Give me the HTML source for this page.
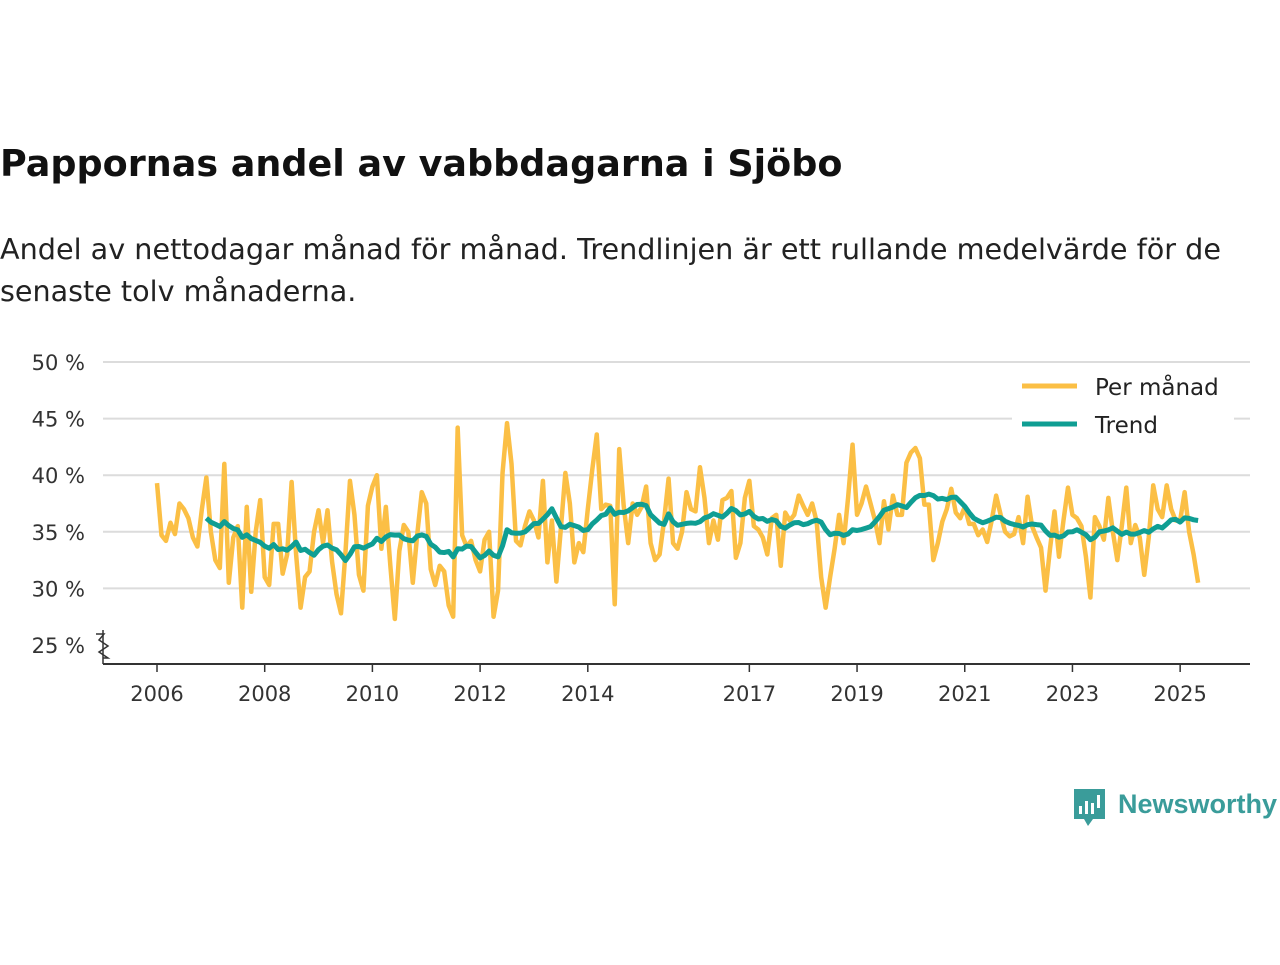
<!DOCTYPE html>
<html><head><meta charset="utf-8"><style>
body{margin:0;background:#fff;width:1280px;height:960px;overflow:hidden;font-family:"Liberation Sans","DejaVu Sans",sans-serif}
</style></head><body>
<svg width="1280" height="960" xmlns="http://www.w3.org/2000/svg">
<text x="0" y="176" font-size="36.5" font-weight="bold" fill="#111" font-family="'DejaVu Sans','Liberation Sans',sans-serif">Pappornas andel av vabbdagarna i Sjöbo</text>
<text font-size="28.6" fill="#222" font-family="'DejaVu Sans','Liberation Sans',sans-serif"><tspan x="0" y="259" textLength="1221" lengthAdjust="spacingAndGlyphs">Andel av nettodagar månad för månad. Trendlinjen är ett rullande medelvärde för de</tspan><tspan x="0" y="301">senaste tolv månaderna.</tspan></text>
<g id="grid"></g><g id="xaxis"></g><g id="series"></g>
<g>
<rect x="1012" y="366" width="222" height="80" fill="#fff"/>
<line x1="1022" y1="386" x2="1077" y2="386" stroke="#fbbf45" stroke-width="5"/>
<text x="1095" y="395" font-size="23" fill="#222" font-family="'DejaVu Sans',sans-serif">Per månad</text>
<line x1="1022" y1="424" x2="1077" y2="424" stroke="#0f9e93" stroke-width="5"/>
<text x="1095" y="433" font-size="23" fill="#222" font-family="'DejaVu Sans',sans-serif">Trend</text>
</g>
<g>
<path d="M1074 789h31v30h-12l-5 7-4-7h-10z" fill="#3a9c9a"/>
<rect x="1079" y="806" width="3" height="8" fill="#fff"/><rect x="1085" y="801" width="3" height="13" fill="#fff"/><rect x="1091" y="803" width="3" height="11" fill="#fff"/><rect x="1097" y="795" width="3" height="13" fill="#fff"/>
<text x="1118" y="813" font-size="27" font-weight="bold" fill="#3a9c9a">Newsworthy</text>
</g>
</svg>
<script>
const yTicks=[25,30,35,40,45,50];
const yTickLabels=["25 %","30 %","35 %","40 %","45 %","50 %"];
const xTickYears=[2006,2008,2010,2012,2014,2017,2019,2021,2023,2025];
const startYear=2006;
const monthly=[
39.3,34.7,34.2,35.8,34.8,37.5,37.0,36.2,34.5,33.7,37.0,39.8,
35.0,32.5,31.8,41.0,30.5,34.5,35.5,28.3,37.2,29.7,35.0,37.8,
31.0,30.3,35.7,35.7,31.3,33.0,39.4,33.0,28.3,31.0,31.5,35.0,
36.9,34.0,36.9,32.4,29.5,27.8,33.2,39.5,36.5,31.2,29.8,37.3,
39.0,40.0,33.5,37.2,32.0,27.3,33.3,35.6,35.0,30.5,34.8,38.5,
37.5,31.7,30.3,32.0,31.5,28.5,27.5,44.2,34.7,33.7,34.2,32.5,
31.5,34.3,35.0,27.5,29.8,40.2,44.6,41.0,34.2,33.8,35.5,36.8,
36.0,34.5,39.5,32.3,36.0,30.6,35.3,40.2,37.5,32.3,34.0,33.2,
37.0,40.5,43.6,37.0,37.4,37.3,28.6,42.3,37.3,34.0,37.5,36.5,
37.2,39.0,34.0,32.5,33.0,36.0,39.7,34.0,33.5,35.0,38.5,37.0,
36.8,40.7,38.0,34.0,36.0,34.3,37.8,38.0,38.6,32.7,34.0,38.0,
39.5,35.5,35.2,34.5,33.0,36.2,36.5,32.0,36.7,36.0,36.5,38.2,
37.3,36.5,37.5,35.9,31.0,28.3,31.0,33.5,36.5,34.0,38.0,42.7,
36.5,37.5,39.0,37.5,36.0,34.0,37.7,35.2,38.2,36.5,36.5,41.1,
42.0,42.4,41.5,37.4,37.4,32.5,34.0,35.9,37.0,38.8,36.7,36.2,
37.2,35.7,35.7,34.7,35.2,34.1,36.0,38.2,36.5,35.0,34.6,34.8,
36.3,34.0,38.1,35.5,34.5,33.6,29.8,33.5,36.8,32.8,36.0,38.9,
36.5,36.2,35.5,32.8,29.2,36.3,35.5,34.3,38.0,35.0,32.5,35.5,
38.9,34.0,35.6,34.5,31.2,34.5,39.1,37.0,36.3,39.1,37.0,36.0,
36.0,38.5,35.0,33.0,30.5];
const NS="http://www.w3.org/2000/svg";
const X0=157,PXY=53.85,Y0=645,PXP=11.32,L=103,R=1250;
const xm=i=>X0+i*PXY/12, xy=y=>X0+(y-startYear)*PXY, yv=v=>Y0-(v-25)*PXP;
function mk(t,a,p){const e=document.createElementNS(NS,t);for(const k in a)e.setAttribute(k,a[k]);p.appendChild(e);return e;}
const grid=document.getElementById('grid');
yTicks.forEach((t,i)=>{
 if(t>25){const l=mk('line',{x1:L,x2:R,y1:yv(t),y2:yv(t),stroke:'#dcdcdc','stroke-width':2},grid);
 
 }
 const tx=mk('text',{x:85,y:yv(t)+8,'text-anchor':'end','font-size':21,fill:'#333','font-family':"'DejaVu Sans',sans-serif"},grid);
 tx.textContent=yTickLabels[i];
 
 
});
const brk=mk('polyline',{points:'96,634 104,634 99,640 108,646 99,652 108,658 103,658',fill:'none',stroke:'#333','stroke-width':1.5},grid);


const xa=document.getElementById('xaxis');
const ax=mk('line',{x1:L,x2:R,y1:664,y2:664,stroke:'#333','stroke-width':2},xa);


const ya=mk('line',{x1:L,x2:L,y1:630,y2:664,stroke:'#333','stroke-width':1.5},xa);


xTickYears.forEach(y=>{
 const tk=mk('line',{x1:xy(y),x2:xy(y),y1:664,y2:672,stroke:'#333','stroke-width':1.5},xa);
 
 
 const t=mk('text',{x:xy(y),y:701,'text-anchor':'middle','font-size':21,fill:'#333','font-family':"'DejaVu Sans',sans-serif"},xa);
 t.textContent=y;
 
 
});
const s=document.getElementById('series');
const p1=mk('polyline',{points:monthly.map((v,i)=>xm(i)+','+yv(v)).join(' '),fill:'none',stroke:'#fbbf45','stroke-width':4.5,'stroke-linejoin':'round'},s);


const trend=[];
for(let i=11;i<monthly.length;i++){let sum=0;for(let j=i-11;j<=i;j++)sum+=monthly[j];trend.push([i,sum/12]);}
const p2=mk('polyline',{points:trend.map(([i,v])=>xm(i)+','+yv(v)).join(' '),fill:'none',stroke:'#0f9e93','stroke-width':5,'stroke-linejoin':'round'},s);


</script>
</body></html>
